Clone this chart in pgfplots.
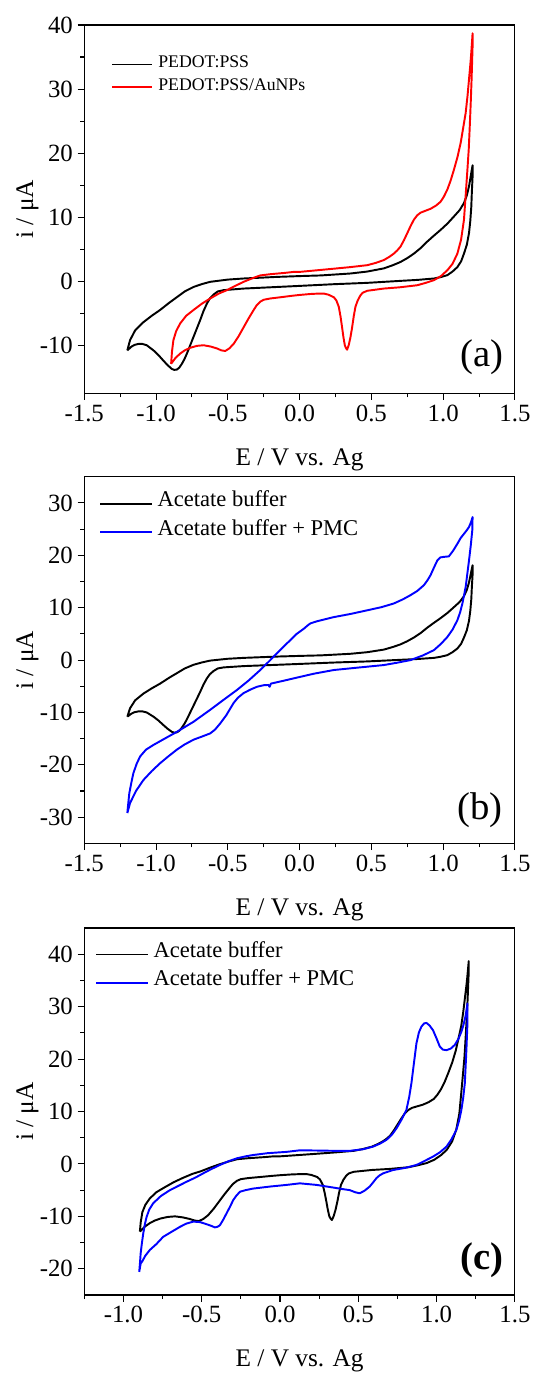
\documentclass[border=0pt]{standalone}
\usepackage{fontspec}
\setmainfont{Liberation Serif}
\usepackage{pgfplots}
\usepackage{pgfplotstable}
\pgfplotsset{compat=1.18}

% PEDOT:PSS in acetate buffer
\pgfplotstableread{
x y
-1.200 -10.8
-1.181 -9.2
-1.146 -7.7
-1.088 -6.4
-1.030 -5.4
-0.972 -4.5
-0.910 -3.4
-0.855 -2.5
-0.800 -1.6
-0.739 -0.9
-0.680 -0.45
-0.623 -0.1
-0.500 0.25
-0.390 0.42
-0.157 0.67
0.005 0.8
0.150 0.9
0.354 1.2
0.470 1.5
0.587 2.0
0.650 2.5
0.703 3.0
0.750 3.6
0.796 4.3
0.845 5.2
0.890 6.2
0.935 7.1
0.982 8.0
1.030 9.0
1.075 10.1
1.115 11.1
1.145 12.2
1.165 13.4
1.180 14.8
1.195 16.8
1.205 18.1
1.205 16.3
1.200 14.0
1.196 11.6
1.189 9.4
1.180 7.5
1.165 5.7
1.145 4.3
1.125 3.1
1.099 2.2
1.065 1.5
1.029 0.94
0.980 0.62
0.936 0.42
0.820 0.2
0.703 0.05
0.471 -0.26
0.238 -0.47
0.005 -0.73
-0.200 -0.95
-0.390 -1.15
-0.530 -1.4
-0.570 -1.6
-0.600 -2.1
-0.625 -2.7
-0.646 -3.5
-0.670 -4.7
-0.693 -6.1
-0.716 -7.4
-0.739 -8.7
-0.762 -10.0
-0.785 -11.3
-0.803 -12.2
-0.820 -12.9
-0.838 -13.5
-0.855 -13.8
-0.873 -13.85
-0.890 -13.7
-0.920 -13.1
-0.949 -12.4
-0.985 -11.5
-1.018 -10.8
-1.065 -10.0
-1.095 -9.8
-1.123 -9.8
-1.150 -9.95
-1.170 -10.2
-1.200 -10.8
}\pedot

% PEDOT:PSS/AuNPs in acetate buffer
\pgfplotstableread{
x y
-0.895 -12.9
-0.889 -11.0
-0.879 -9.2
-0.860 -7.8
-0.832 -6.6
-0.790 -5.4
-0.739 -4.5
-0.680 -3.5
-0.623 -2.7
-0.560 -1.9
-0.506 -1.4
-0.450 -0.75
-0.390 -0.1
-0.330 0.45
-0.274 0.9
-0.200 1.1
-0.100 1.3
-0.042 1.45
0.005 1.46
0.120 1.7
0.238 1.95
0.354 2.2
0.471 2.5
0.530 2.85
0.587 3.3
0.625 3.8
0.656 4.3
0.680 4.8
0.703 5.4
0.727 6.4
0.750 7.5
0.773 8.6
0.796 9.6
0.820 10.3
0.843 10.7
0.877 11.0
0.912 11.3
0.950 11.8
0.982 12.4
1.005 13.2
1.029 14.3
1.052 15.7
1.075 17.4
1.100 19.4
1.122 21.6
1.140 24.0
1.157 26.3
1.170 29.0
1.180 31.5
1.190 34.0
1.196 35.7
1.205 38.7
1.205 36.7
1.198 31.5
1.192 27.8
1.185 24.0
1.178 20.5
1.169 17.4
1.158 13.8
1.145 9.6
1.125 6.5
1.099 4.3
1.065 2.7
1.029 1.7
0.985 0.8
0.936 0.16
0.880 -0.25
0.820 -0.63
0.700 -0.95
0.587 -1.15
0.471 -1.5
0.440 -1.8
0.424 -2.2
0.405 -3.0
0.389 -4.0
0.377 -5.5
0.366 -7.2
0.354 -8.8
0.342 -10.0
0.331 -10.7
0.322 -10.4
0.315 -10.0
0.305 -8.7
0.296 -7.2
0.285 -5.5
0.273 -4.0
0.256 -3.0
0.238 -2.5
0.200 -2.1
0.168 -1.93
0.120 -1.95
0.075 -2.0
0.000 -2.15
-0.060 -2.3
-0.130 -2.5
-0.204 -2.7
-0.250 -2.9
-0.274 -3.2
-0.300 -3.8
-0.320 -4.5
-0.355 -5.8
-0.390 -7.2
-0.425 -8.6
-0.460 -9.8
-0.490 -10.5
-0.518 -10.9
-0.545 -10.8
-0.576 -10.5
-0.620 -10.2
-0.670 -10.0
-0.715 -10.1
-0.762 -10.4
-0.800 -10.8
-0.832 -11.3
-0.865 -12.0
-0.895 -12.9
}\pedotau

% PEDOT:PSS + PMC
\pgfplotstableread{
x y
-1.200 -29.2
-1.193 -27.2
-1.186 -25.4
-1.172 -23.4
-1.158 -21.6
-1.135 -19.8
-1.111 -18.4
-1.070 -17.1
-1.018 -16.2
-0.940 -15.0
-0.855 -13.7
-0.740 -11.8
-0.623 -9.5
-0.530 -7.6
-0.436 -5.7
-0.355 -3.9
-0.274 -1.9
-0.215 -0.3
-0.157 1.3
-0.110 2.6
-0.065 3.8
-0.020 5.0
0.030 6.0
0.060 6.7
0.075 7.0
0.120 7.4
0.238 8.2
0.354 8.8
0.471 9.5
0.570 10.1
0.656 10.8
0.720 11.6
0.773 12.4
0.820 13.2
0.866 14.3
0.890 15.2
0.912 16.2
0.935 17.6
0.959 19.0
0.980 19.6
1.005 19.7
1.040 19.8
1.070 20.9
1.099 22.2
1.122 23.3
1.145 24.1
1.165 24.8
1.180 25.4
1.195 26.4
1.205 27.3
1.203 24.8
1.192 21.8
1.180 19.0
1.168 16.4
1.157 14.0
1.145 12.3
1.134 10.8
1.118 9.1
1.099 7.6
1.065 5.8
1.029 4.4
0.985 3.1
0.936 1.9
0.860 0.9
0.773 0.0
0.680 -0.5
0.587 -0.95
0.420 -1.4
0.238 -1.9
0.100 -2.6
0.005 -3.2
-0.042 -3.5
-0.120 -4.0
-0.185 -4.4
-0.200 -4.5
-0.209 -5.1
-0.218 -4.75
-0.250 -4.8
-0.297 -5.1
-0.340 -5.6
-0.390 -6.3
-0.430 -7.2
-0.460 -8.2
-0.510 -10.5
-0.553 -12.1
-0.590 -13.3
-0.623 -14.0
-0.680 -14.6
-0.739 -15.2
-0.800 -16.1
-0.855 -17.1
-0.915 -18.4
-0.972 -19.7
-1.030 -21.2
-1.088 -22.9
-1.140 -25.0
-1.181 -27.3
-1.200 -29.2
}\pmcb

% PEDOT:PSS/AuNPs + PMC
\pgfplotstableread{
x y
-0.899 -20.6
-0.894 -18.8
-0.890 -17.1
-0.882 -15.1
-0.873 -13.2
-0.863 -11.5
-0.852 -10.1
-0.835 -8.7
-0.810 -7.5
-0.760 -6.1
-0.703 -5.0
-0.650 -4.2
-0.597 -3.4
-0.540 -2.6
-0.491 -1.8
-0.440 -1.0
-0.384 -0.2
-0.330 0.5
-0.276 1.07
-0.220 1.45
-0.172 1.7
-0.080 2.05
0.042 2.3
0.127 2.6
0.254 2.55
0.350 2.5
0.446 2.5
0.530 2.8
0.594 3.3
0.640 3.9
0.680 4.6
0.715 5.6
0.744 6.8
0.775 8.4
0.807 10.3
0.825 12.8
0.839 15.4
0.855 19.2
0.871 23.0
0.887 25.1
0.903 26.2
0.920 26.8
0.935 26.9
0.955 26.4
0.977 25.5
1.000 23.9
1.020 22.4
1.040 21.8
1.063 21.7
1.090 22.0
1.116 22.7
1.140 23.9
1.158 25.2
1.172 26.6
1.184 28.1
1.197 30.6
1.197 27.0
1.193 24.0
1.190 21.7
1.185 18.5
1.180 15.4
1.170 12.7
1.158 10.3
1.143 8.2
1.126 6.5
1.095 4.7
1.063 3.3
1.020 2.2
0.977 1.4
0.925 0.6
0.871 -0.2
0.800 -0.75
0.722 -1.16
0.658 -1.8
0.635 -2.2
0.616 -2.7
0.595 -3.5
0.573 -4.3
0.540 -5.1
0.509 -5.6
0.480 -5.4
0.446 -5.0
0.400 -4.8
0.339 -4.5
0.233 -4.0
0.127 -3.7
0.042 -4.0
-0.060 -4.3
-0.172 -4.7
-0.220 -5.0
-0.256 -5.3
-0.280 -6.1
-0.299 -6.9
-0.320 -8.2
-0.341 -9.4
-0.362 -10.6
-0.384 -11.7
-0.400 -12.0
-0.416 -12.1
-0.440 -11.8
-0.469 -11.5
-0.510 -11.1
-0.554 -11.0
-0.600 -11.4
-0.639 -12.0
-0.690 -12.9
-0.746 -13.9
-0.790 -15.3
-0.831 -16.4
-0.860 -17.5
-0.880 -18.6
-0.890 -19.0
-0.899 -20.6
}\pmcc

\pgfplotsset{
  cv/.style={
    scale only axis, width=323pt, anchor=north west,
    axis line style={line width=0.8pt},
    tick align=outside, xtick pos=left, ytick pos=left,
    major tick length=5pt, minor tick length=3pt,
    every tick/.style={black, line width=0.8pt},
    minor x tick num=1, minor y tick num=1,
    tick label style={font=\fontsize{18.6}{20}\selectfont},
    /pgf/number format/assume math mode=true,
    xticklabel style={/pgf/number format/.cd, fixed, fixed zerofill, precision=1},
    xlabel={E / V vs. Ag}, ylabel={i / μA},
    every axis x label/.style={at={([yshift=-53.8pt]axis description cs:0.5,0)}, anchor=base, font=\fontsize{19}{22}\selectfont},
    every axis y label/.style={at={([xshift=-38.4pt]axis description cs:0,0.5)}, anchor=base, rotate=90, font=\fontsize{19}{22}\selectfont},
    legend cell align=left,
    every axis plot/.append style={line width=1.45pt, line join=round},
  }
}

\begin{document}
\begin{tikzpicture}
\useasboundingbox (-63.2pt,18.75pt) rectangle (335.8pt,-1011pt);

% (a)
\begin{axis}[cv, at={(0pt,0pt)}, height=276.2pt,
  xmin=-1.5, xmax=1.5, ymin=-17.5, ymax=40,
  xtick={-1.5,-1,...,1.5}, ytick={-10,0,...,40},
  legend image code/.code={\draw[#1, line width=1.45pt] (0pt,0pt) -- (30pt,0pt);},
  legend style={draw=none, fill=none, inner sep=0pt, column sep=3.8pt,
    at={(axis description cs:0.0622,0.924)}, anchor=north west,
    font=\fontsize{13.3}{15}\selectfont,
    nodes={inner sep=0pt, text height=11pt, text depth=5.9pt}}]
\addplot[black] table[x=x,y=y] {\pedot};
\addplot[red] table[x=x,y=y] {\pedotau};
\legend{PEDOT:PSS, PEDOT:PSS/AuNPs}
\node[font=\fontsize{29}{30}\selectfont] at (axis description cs:0.923,0.0976) {(a)};
\end{axis}

% (b)
\begin{axis}[cv, at={(0pt,-338.8pt)}, height=275pt,
  xmin=-1.5, xmax=1.5, ymin=-35, ymax=35,
  xtick={-1.5,-1,...,1.5}, ytick={-30,-20,...,30},
  legend image code/.code={\draw[#1, line width=1.45pt] (0pt,0pt) -- (38.4pt,0pt);},
  legend style={draw=none, fill=none, inner sep=0pt, column sep=3.8pt,
    at={(axis description cs:0.0346,0.966)}, anchor=north west,
    font=\fontsize{16.9}{19}\selectfont,
    nodes={inner sep=0pt, text height=13pt, text depth=8.2pt}}]
\addplot[black] table[x=x,y=y] {\pedot};
\addplot[blue] table[x=x,y=y] {\pmcb};
\legend{Acetate buffer, Acetate buffer + PMC}
\node[font=\fontsize{29}{30}\selectfont] at (axis description cs:0.919,0.091) {(b)};
\end{axis}

% (c)
\begin{axis}[cv, at={(0pt,-677.25pt)}, height=275.25pt,
  xmin=-1.25, xmax=1.5, ymin=-25, ymax=45,
  xtick={-1,-0.5,...,1.5}, minor xtick={-1.25,-0.75,...,1.25},
  ytick={-20,-10,...,40},
  legend image code/.code={\draw[#1, line width=1.45pt] (0pt,0pt) -- (38.4pt,0pt);},
  legend style={draw=none, fill=none, inner sep=0pt, column sep=3.8pt,
    at={(axis description cs:0.0252,0.967)}, anchor=north west,
    font=\fontsize{16.9}{19}\selectfont,
    nodes={inner sep=0pt, text height=13pt, text depth=8.2pt}}]
\addplot[black] table[x=x,y=y] {\pedotau};
\addplot[blue] table[x=x,y=y] {\pmcc};
\legend{Acetate buffer, Acetate buffer + PMC}
\node[font=\bfseries\fontsize{29}{30}\selectfont] at (axis description cs:0.923,0.094) {(c)};
\end{axis}
\end{tikzpicture}
\end{document}
